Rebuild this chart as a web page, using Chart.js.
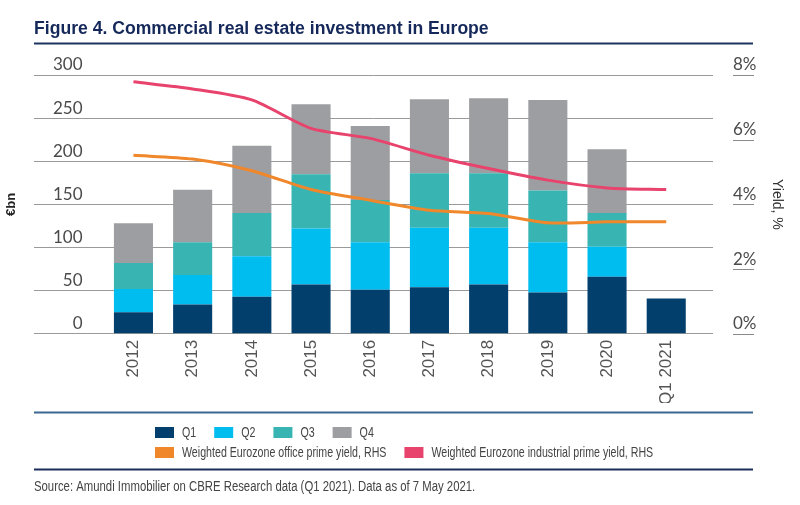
<!DOCTYPE html>
<html>
<head>
<meta charset="utf-8">
<script src="https://cdn.jsdelivr.net/npm/chart.js@4/dist/chart.umd.min.js"></script>
<style>
  body { margin: 0; background: #fff; }
  #wrap { width: 800px; height: 505px; position: relative; }
</style>
</head>
<body>
<div id="wrap"><canvas id="barChart"></canvas></div>
<script>
var years = ["2012", "2013", "2014", "2015", "2016", "2017", "2018", "2019", "2020", "Q1 2021"];
var q1 = [25, 34, 43, 57, 51, 54, 57, 48, 66, 41];
var q2 = [27, 34, 47, 65, 55, 69, 66, 58, 35, null];
var q3 = [30, 38, 50, 63, 49, 63, 63, 60, 39, null];
var q4 = [46, 61, 78, 81, 86, 86, 87, 105, 74, null];
var officeYield = [5.52, 5.40, 5.04, 4.46, 4.13, 3.82, 3.72, 3.43, 3.46, 3.46];
var industrialYield = [7.79, 7.57, 7.23, 6.35, 6.04, 5.52, 5.11, 4.75, 4.51, 4.46];
var leftTicks = [0, 50, 100, 150, 200, 250, 300];
var rightTicks = [0, 2, 4, 6, 8];

var titleText = "Figure 4. Commercial real estate investment in Europe";
var sourceText = "Source: Amundi Immobilier on CBRE Research data (Q1 2021). Data as of 7 May 2021.";

// linear x axis so the grid can run wider than the bars
function toPoints(arr) {
  return arr.map(function (v, i) { return { x: i, y: v }; });
}

function barSet(label, values, color) {
  return {
    type: "bar",
    label: label,
    data: toPoints(values),
    backgroundColor: color,
    yAxisID: "y",
    order: 1,
    categoryPercentage: 1,
    barPercentage: 0.66,
  };
}

function lineSet(label, values, color) {
  return {
    type: "line",
    label: label,
    data: toPoints(values),
    borderColor: color,
    backgroundColor: color,
    borderWidth: 3,
    pointRadius: 0,
    tension: 0.25,
    yAxisID: "y1",
    order: 0,
  };
}

var sans = "'Liberation Sans', Arial, sans-serif";

// no condensed face installed, so squeeze the text horizontally
function squeezedText(ctx, text, x, y, k) {
  ctx.save();
  ctx.translate(x, y);
  ctx.scale(k, 1);
  ctx.fillText(text, 0, 0);
  var w = ctx.measureText(text).width * k;
  ctx.restore();
  return w;
}

// title, rules, legend and source line
var decorations = {
  id: "decorations",
  afterDraw: function (chart) {
    var ctx = chart.ctx;
    var area = chart.chartArea;
    var left = area.left;
    var right = area.right + 40;
    ctx.save();

    ctx.fillStyle = "#15285a";
    ctx.font = "bold 17.6px " + sans;
    ctx.textBaseline = "middle";
    ctx.textAlign = "left";
    ctx.fillText(titleText, left, 29);

    ctx.strokeStyle = "#1d3461";
    ctx.lineWidth = 2;
    ctx.beginPath();
    ctx.moveTo(left, 43.5);
    ctx.lineTo(right, 43.5);
    ctx.stroke();

    // short rules under the right-hand labels
    var y1 = chart.scales.y1;
    ctx.strokeStyle = "#8a8a8a";
    ctx.lineWidth = 1;
    y1.ticks.forEach(function (t) {
      var py = Math.round(y1.getPixelForValue(t.value)) + 0.5;
      ctx.beginPath();
      ctx.moveTo(y1.left + 20, py);
      ctx.lineTo(y1.left + 41, py);
      ctx.stroke();
    });

    ctx.strokeStyle = "#3b6790";
    ctx.lineWidth = 2;
    ctx.beginPath();
    ctx.moveTo(left, 412.5);
    ctx.lineTo(right, 412.5);
    ctx.stroke();

    // legend: bars on the first row, lines on the second
    ctx.font = "15px " + sans;
    var rows = [
      chart.data.datasets.filter(function (d) { return d.type === "bar"; }),
      chart.data.datasets.filter(function (d) { return d.type === "line"; }),
    ];
    rows.forEach(function (items, r) {
      var x = 155;
      var cy = 432.5 + r * 20;
      items.forEach(function (d) {
        ctx.fillStyle = d.backgroundColor;
        ctx.fillRect(x, cy - 5.5, 19, 11);
        ctx.fillStyle = "#444";
        var w = squeezedText(ctx, d.label, x + 27, cy, 0.71);
        x += 27 + w + 18;
      });
    });

    ctx.strokeStyle = "#1c2c5a";
    ctx.lineWidth = 2;
    ctx.beginPath();
    ctx.moveTo(left, 469.5);
    ctx.lineTo(right, 469.5);
    ctx.stroke();

    ctx.fillStyle = "#444";
    ctx.font = "14px " + sans;
    squeezedText(ctx, sourceText, left, 487, 0.81);
    ctx.restore();
  },
};

var ctx = document.getElementById("barChart").getContext("2d");

var myChart = new Chart(ctx, {
  data: {
    datasets: [
      barSet("Q1", q1, "#023f6d"),
      barSet("Q2", q2, "#00bdf0"),
      barSet("Q3", q3, "#38b5b3"),
      barSet("Q4", q4, "#9d9ea1"),
      lineSet("Weighted Eurozone office prime yield, RHS", officeYield, "#f0872a"),
      lineSet("Weighted Eurozone industrial prime yield, RHS", industrialYield, "#e8436c"),
    ],
  },
  options: {
    responsive: true,
    maintainAspectRatio: false,
    animation: false,
    layout: { padding: { top: 75, bottom: 102, left: 0, right: 0 } },
    plugins: {
      legend: { display: false },
      tooltip: { enabled: false },
    },
    scales: {
      x: {
        type: "linear",
        stacked: true,
        offset: false,
        min: -1.68,
        max: 9.79,
        afterBuildTicks: function (scale) {
          scale.ticks = years.map(function (y, i) { return { value: i }; });
        },
        grid: { display: false },
        border: { display: false },
        ticks: {
          autoSkip: false,
          minRotation: 90,
          maxRotation: 90,
          padding: -2,
          color: "#555",
          font: { family: sans, size: 17 },
          callback: function (value) { return years[value]; },
        },
      },
      y: {
        position: "left",
        stacked: true,
        min: 0,
        max: 300,
        afterBuildTicks: function (scale) {
          scale.ticks = leftTicks.map(function (v) { return { value: v }; });
        },
        afterFit: function (scale) { scale.width = 34; },
        grid: { color: "#9a9a9a", lineWidth: 1, drawTicks: false },
        border: { display: false },
        ticks: {
          mirror: true,
          crossAlign: "far",
          padding: 19,
          labelOffset: -10,
          color: "#4a4a4a",
          font: { family: "Lato, sans-serif", size: 17 },
        },
        title: {
          display: true,
          text: "€bn",
          color: "#222",
          padding: { top: 4, bottom: 0 },
          font: { family: sans, size: 13, weight: "bold" },
        },
      },
      y1: {
        position: "right",
        min: 0,
        max: 8,
        afterBuildTicks: function (scale) {
          scale.ticks = rightTicks.map(function (v) { return { value: v }; });
        },
        afterFit: function (scale) { scale.width = 87; },
        grid: { drawOnChartArea: false, drawTicks: false },
        border: { display: false },
        ticks: {
          padding: 20,
          labelOffset: -10,
          color: "#4a4a4a",
          font: { family: "Lato, sans-serif", size: 17 },
          callback: function (v) { return v + "%"; },
        },
        title: {
          display: true,
          text: "Yield, %",
          color: "#333",
          padding: { top: 15, bottom: 0 },
          font: { family: sans, size: 14 },
        },
      },
    },
  },
  plugins: [decorations],
});
</script>
</body>
</html>
